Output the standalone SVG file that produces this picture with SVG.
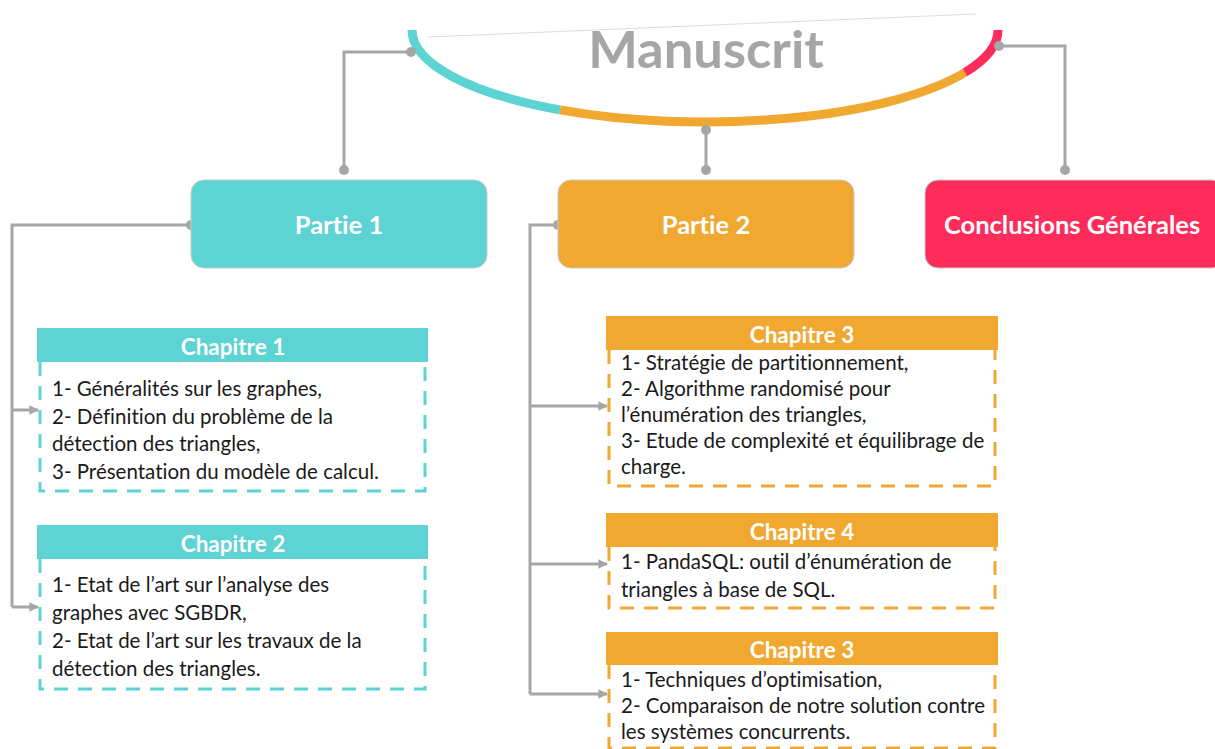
<svg xmlns="http://www.w3.org/2000/svg" width="1215" height="749" viewBox="0 0 1215 749">
<defs>
<marker id="arr" viewBox="0 0 10 10" refX="9" refY="5" markerWidth="3.2" markerHeight="3.2" orient="auto" markerUnits="strokeWidth">
<path d="M0,0 L10,5 L0,10 z" fill="#a6a6a6"/>
</marker>
</defs>
<style>
text{font-variant-ligatures:none}
.con{fill:none;stroke:#a6a6a6;stroke-width:3}
.dot{fill:#a6a6a6}
.bt{font-family:Lato,"Liberation Sans",sans-serif;font-weight:bold;fill:#fff;text-anchor:middle}
.pt{font-size:25.5px}
.ch{font-size:22.5px}
.body{font-family:Lato,"Liberation Sans",sans-serif;font-size:20.5px;fill:#1a1a1a}
.dc{fill:#fff;stroke:#5dd3d4;stroke-width:3;stroke-dasharray:14 10}
.do{fill:#fff;stroke:#f0a830;stroke-width:3;stroke-dasharray:14 10}
</style>
<rect width="1215" height="749" fill="#fff"/>

<g id="manuscrit">
<path d="M428,37 L976,14" fill="none" stroke="#dcdcdc" stroke-width="1"/>
<path d="M412,30 A293 92 0 0 0 560,109.9" fill="none" stroke="#5dd3d4" stroke-width="9"/>
<path d="M560,109.9 A293 92 0 0 0 964.9,72.5" fill="none" stroke="#f0a830" stroke-width="9"/>
<path d="M964.9,72.5 A293 92 0 0 0 998,30" fill="none" stroke="#fe2c5a" stroke-width="9"/>
<text x="706" y="68" font-family="Lato,'Liberation Sans',sans-serif" font-weight="bold" font-size="52.5" fill="#a6a6a6" text-anchor="middle">Manuscrit</text>
</g>

<g id="connectors">
<path class="con" d="M411,52 H344 V170"/>
<path class="con" d="M706,130 V170"/>
<path class="con" d="M999,46 H1065 V170"/>
<path class="con" d="M191,225 H12 V607"/>
<path class="con" d="M12,410 H38" marker-end="url(#arr)"/>
<path class="con" d="M12,607 H38" marker-end="url(#arr)"/>
<path class="con" d="M558,225 H530 V694"/>
<path class="con" d="M530,406 H607" marker-end="url(#arr)"/>
<path class="con" d="M530,564 H607" marker-end="url(#arr)"/>
<path class="con" d="M530,694 H607" marker-end="url(#arr)"/>
<circle class="dot" cx="411" cy="52" r="5"/>
<circle class="dot" cx="344" cy="170" r="5"/>
<circle class="dot" cx="706" cy="130" r="5"/>
<circle class="dot" cx="706" cy="170" r="5"/>
<circle class="dot" cx="999" cy="46" r="5"/>
<circle class="dot" cx="1065" cy="170" r="5"/>
<circle class="dot" cx="191" cy="225" r="5"/>
<circle class="dot" cx="558" cy="225" r="5"/>
</g>

<g id="partie1">
<rect x="191" y="180" width="296" height="88" rx="13" fill="#5dd3d4" stroke="#c9c9c9" stroke-width="1"/>
<text class="bt pt" x="339" y="234">Partie 1</text>
</g>
<g id="partie2">
<rect x="558" y="180" width="296" height="88" rx="13" fill="#f0a830" stroke="#c9c9c9" stroke-width="1"/>
<text class="bt pt" x="706" y="234">Partie 2</text>
</g>
<g id="conclusions">
<rect x="925" y="180" width="300" height="88" rx="13" fill="#fe2c5a" stroke="#c9c9c9" stroke-width="1"/>
<text class="bt pt" x="1072" y="234">Conclusions Générales</text>
</g>

<g id="chapitre1">
<path class="dc" d="M40,362 V491 H425 V362"/>
<rect x="37" y="328" width="391" height="34" fill="#5dd3d4"/>
<text class="bt ch" x="233" y="355">Chapitre 1</text>
<text class="body" x="52" y="396">1- Généralités sur les graphes,</text>
<text class="body" x="52" y="424">2- Définition du problème de la</text>
<text class="body" x="52" y="451">détection des triangles,</text>
<text class="body" x="52" y="479">3- Présentation du modèle de calcul.</text>
</g>

<g id="chapitre2">
<path class="dc" d="M40,559 V689 H425 V559"/>
<rect x="37" y="525" width="391" height="34" fill="#5dd3d4"/>
<text class="bt ch" x="233" y="552">Chapitre 2</text>
<text class="body" x="52" y="592">1- Etat de l’art sur l’analyse des</text>
<text class="body" x="52" y="620">graphes avec SGBDR,</text>
<text class="body" x="52" y="648">2- Etat de l’art sur les travaux de la</text>
<text class="body" x="52" y="676">détection des triangles.</text>
</g>

<g id="chapitre3a">
<path class="do" d="M609,350 V486 H995 V350"/>
<rect x="606" y="316" width="392" height="34" fill="#f0a830"/>
<text class="bt ch" x="802" y="343">Chapitre 3</text>
<text class="body" x="621" y="370">1- Stratégie de partitionnement,</text>
<text class="body" x="621" y="396">2- Algorithme randomisé pour</text>
<text class="body" x="621" y="422">l’énumération des triangles,</text>
<text class="body" x="621" y="448">3- Etude de complexité et équilibrage de</text>
<text class="body" x="621" y="474">charge.</text>
</g>

<g id="chapitre4">
<path class="do" d="M609,547 V608 H995 V547"/>
<rect x="606" y="513" width="392" height="34" fill="#f0a830"/>
<text class="bt ch" x="802" y="540">Chapitre 4</text>
<text class="body" x="621" y="569">1- PandaSQL: outil d’énumération de</text>
<text class="body" x="621" y="597">triangles à base de SQL.</text>
</g>

<g id="chapitre3b">
<path class="do" d="M609,665 V748 H995 V665"/>
<rect x="606" y="632" width="392" height="33" fill="#f0a830"/>
<text class="bt ch" x="802" y="658">Chapitre 3</text>
<text class="body" x="621" y="687">1- Techniques d’optimisation,</text>
<text class="body" x="621" y="713">2- Comparaison de notre solution contre</text>
<text class="body" x="621" y="739">les systèmes concurrents.</text>
</g>
</svg>
